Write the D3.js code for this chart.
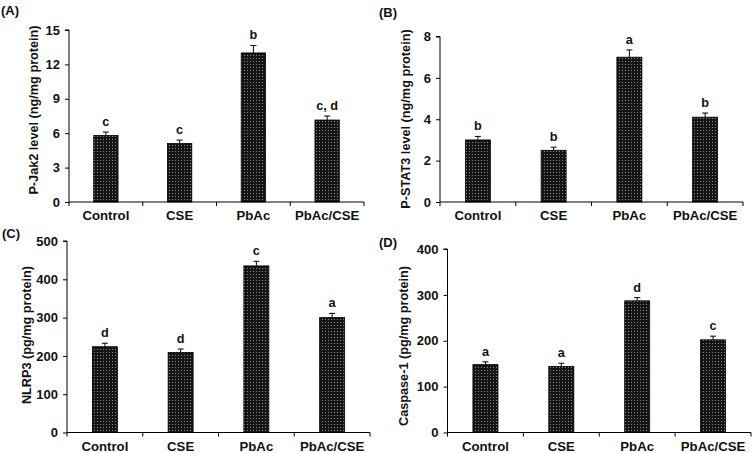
<!DOCTYPE html>
<html lang="en">
<head>
<meta charset="UTF-8" />
<title>P-Jak2, P-STAT3, NLRP3 and Caspase-1 levels</title>
<script src="https://d3js.org/d3.v7.min.js"></script>
<style>
  html, body { margin: 0; padding: 0; background: #fff; }
  svg { display: block; }
  text { font-family: "Liberation Sans", Arial, sans-serif; font-weight: bold; fill: #111; }
</style>
</head>
<body>
<div id="chart"></div>

<script>
// Groups shared by all four panels
const categories = ["Control", "CSE", "PbAc", "PbAc/CSE"];

// (A) P-Jak2 level (ng/mg protein)
const jak2Mean = [5.8, 5.1, 13.0, 7.15];
const jak2Err = [0.3, 0.3, 0.65, 0.35];
const jak2Letters = ["c", "c", "b", "c, d"];
const jak2Ticks = [0, 3, 6, 9, 12, 15];

// (B) P-STAT3 level (ng/mg protein)
const stat3Mean = [3.0, 2.5, 7.0, 4.1];
const stat3Err = [0.17, 0.15, 0.35, 0.2];
const stat3Letters = ["b", "b", "a", "b"];
const stat3Ticks = [0, 2, 4, 6, 8];

// (C) NLRP3 (pg/mg protein)
const nlrp3Mean = [224, 209, 435, 300];
const nlrp3Err = [9, 9, 12, 11];
const nlrp3Letters = ["d", "d", "c", "a"];
const nlrp3Ticks = [0, 100, 200, 300, 400, 500];

// (D) Caspase-1 (pg/mg protein)
const casp1Mean = [148, 144, 287, 202];
const casp1Err = [6, 7, 7, 8];
const casp1Letters = ["a", "a", "d", "c"];
const casp1Ticks = [0, 100, 200, 300, 400];

const width = 754, height = 453;

const svg = d3.select("#chart").append("svg")
  .attr("width", width)
  .attr("height", height)
  .attr("viewBox", [0, 0, width, height]);

// dark dotted bar fill
const pat = svg.append("defs").append("pattern")
  .attr("id", "dots")
  .attr("width", 3).attr("height", 3)
  .attr("patternUnits", "userSpaceOnUse");
pat.append("rect").attr("width", 3).attr("height", 3).attr("fill", "#151515");
pat.append("rect").attr("x", 1).attr("y", 1).attr("width", 1).attr("height", 1).attr("fill", "#8a8a8a");

// panel geometry (pixels) + which data arrays go where
const panels = [
  { tag: "(A)", tagX: 1, tagY: 15, title: "P-Jak2 level (ng/mg protein)", titleX: 38, titleY: 110,
    left: 69, right: 364, top: 30, bottom: 202,
    mean: jak2Mean, err: jak2Err, letters: jak2Letters, ticks: jak2Ticks },
  { tag: "(B)", tagX: 379, tagY: 17, title: "P-STAT3 level (ng/mg protein)", titleX: 409.5, titleY: 119,
    left: 440, right: 743, top: 36.5, bottom: 202,
    mean: stat3Mean, err: stat3Err, letters: stat3Letters, ticks: stat3Ticks },
  { tag: "(C)", tagX: 2, tagY: 238, title: "NLRP3 (pg/mg protein)", titleX: 31, titleY: 335,
    left: 67, right: 370, top: 241, bottom: 432.5,
    mean: nlrp3Mean, err: nlrp3Err, letters: nlrp3Letters, ticks: nlrp3Ticks },
  { tag: "(D)", tagX: 379, tagY: 247, title: "Caspase-1 (pg/mg protein)", titleX: 408, titleY: 346,
    left: 447.5, right: 751, top: 249, bottom: 432.5,
    mean: casp1Mean, err: casp1Err, letters: casp1Letters, ticks: casp1Ticks }
];

const fontSize = 12.7;

panels.forEach(p => {
  const g = svg.append("g");
  const data = categories.map((c, i) => ({ cat: c, mean: p.mean[i], err: p.err[i], letter: p.letters[i] }));

  const x = d3.scaleBand().domain(categories).range([p.left, p.right]).padding(0);
  const y = d3.scaleLinear().domain([0, d3.max(p.ticks)]).range([p.bottom, p.top]);
  const barW = x.bandwidth() * 0.33;

  // panel tag
  g.append("text")
    .attr("x", p.tagX).attr("y", p.tagY)
    .attr("font-size", 13)
    .text(p.tag);

  // y axis title
  g.append("text")
    .attr("transform", `translate(${p.titleX},${p.titleY}) rotate(-90)`)
    .attr("text-anchor", "middle")
    .attr("font-size", fontSize)
    .text(p.title);

  // bars
  g.selectAll("rect.bar").data(data).join("rect")
    .attr("class", "bar")
    .attr("x", d => x(d.cat) + (x.bandwidth() - barW) / 2)
    .attr("y", d => y(d.mean))
    .attr("width", barW)
    .attr("height", d => y(0) - y(d.mean))
    .attr("fill", "url(#dots)")
    .attr("stroke", "#000")
    .attr("stroke-width", 0.8);

  // upper error bars
  const cx = d => x(d.cat) + x.bandwidth() / 2;
  g.selectAll("line.err").data(data).join("line")
    .attr("class", "err")
    .attr("x1", cx).attr("x2", cx)
    .attr("y1", d => y(d.mean)).attr("y2", d => y(d.mean + d.err))
    .attr("stroke", "#000").attr("stroke-width", 1);
  g.selectAll("line.cap").data(data).join("line")
    .attr("class", "cap")
    .attr("x1", d => cx(d) - 3).attr("x2", d => cx(d) + 3)
    .attr("y1", d => y(d.mean + d.err)).attr("y2", d => y(d.mean + d.err))
    .attr("stroke", "#000").attr("stroke-width", 1);

  // significance letters
  g.selectAll("text.sig").data(data).join("text")
    .attr("class", "sig")
    .attr("x", cx)
    .attr("y", d => y(d.mean + d.err) - 6)
    .attr("text-anchor", "middle")
    .attr("font-size", fontSize)
    .text(d => d.letter);

  // y axis
  const yAxis = g.append("g")
    .attr("transform", `translate(${p.left},0)`)
    .call(d3.axisLeft(y).tickValues(p.ticks).tickSize(4).tickPadding(5).tickFormat(d3.format("d")));
  yAxis.select(".domain").attr("d", `M-4,${y(d3.max(p.ticks))}H0V${p.bottom + 4}`);

  // x axis: Excel-like ticks at the category boundaries
  const xAxis = g.append("g");
  xAxis.append("line")
    .attr("x1", p.left).attr("x2", p.right)
    .attr("y1", p.bottom).attr("y2", p.bottom)
    .attr("stroke", "#000");
  const bounds = categories.map(c => x(c)).concat([x.range()[1]]);
  xAxis.selectAll("line.xt").data(bounds.slice(1)).join("line")
    .attr("class", "xt")
    .attr("x1", d => d).attr("x2", d => d)
    .attr("y1", p.bottom).attr("y2", p.bottom + 4)
    .attr("stroke", "#000");
  xAxis.selectAll("text").data(categories).join("text")
    .attr("x", c => x(c) + x.bandwidth() / 2)
    .attr("y", p.bottom + 18)
    .attr("text-anchor", "middle")
    .attr("font-size", 13.2)
    .text(c => c);

  yAxis.selectAll("text").attr("font-size", 13).attr("font-family", null).attr("fill", "#111");
  yAxis.selectAll("line, path").attr("stroke", "#000");
});
</script>
</body>
</html>
